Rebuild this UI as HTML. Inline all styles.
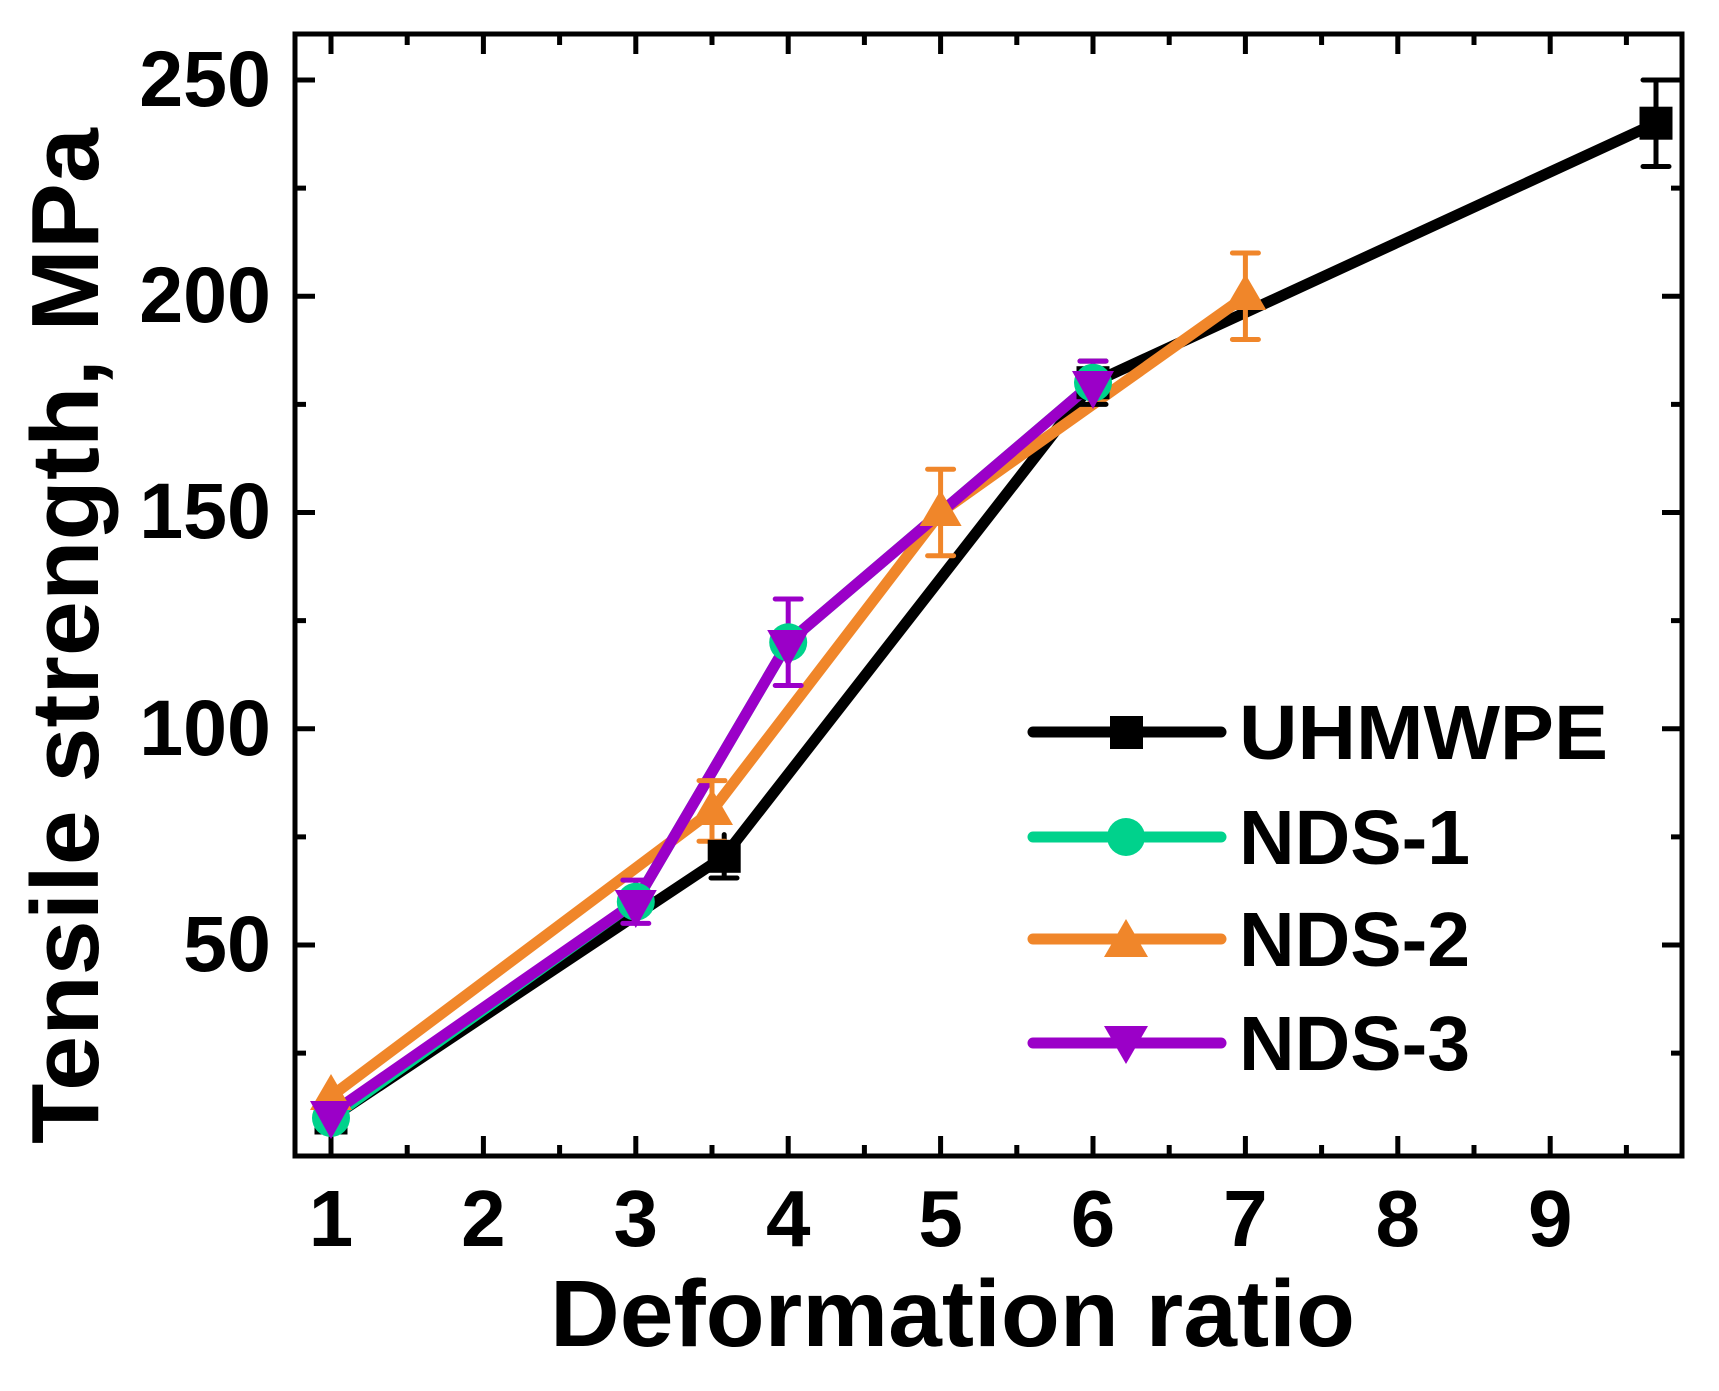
<!DOCTYPE html>
<html><head><meta charset="utf-8"><style>
html,body{margin:0;padding:0;background:#fff;}
svg{display:block;}
text{font-family:"Liberation Sans",Arial,sans-serif;font-weight:bold;fill:#000;}
</style></head><body>
<svg width="1719" height="1391" viewBox="0 0 1719 1391" xmlns="http://www.w3.org/2000/svg">
<g stroke="#000" stroke-width="5">
<path d="M331 1156v-20M483.4 1156v-20M635.8 1156v-20M788.2 1156v-20M940.6 1156v-20M1093 1156v-20M1245.4 1156v-20M1397.8 1156v-20M1550.2 1156v-20
M407.2 1156v-11M559.6 1156v-11M712 1156v-11M864.4 1156v-11M1016.8 1156v-11M1169.2 1156v-11M1321.6 1156v-11M1474 1156v-11M1626.4 1156v-11
M331 34v20M483.4 34v20M635.8 34v20M788.2 34v20M940.6 34v20M1093 34v20M1245.4 34v20M1397.8 34v20M1550.2 34v20
M407.2 34v11M559.6 34v11M712 34v11M864.4 34v11M1016.8 34v11M1169.2 34v11M1321.6 34v11M1474 34v11M1626.4 34v11
M295 80h20M295 296.25h20M295 512.5h20M295 728.75h20M295 945h20
M295 188.1h11M295 404.4h11M295 620.6h11M295 836.9h11M295 1053.1h11
M1682 80h-20M1682 296.25h-20M1682 512.5h-20M1682 728.75h-20M1682 945h-20
M1682 188.1h-11M1682 404.4h-11M1682 620.6h-11M1682 836.9h-11M1682 1053.1h-11"/>
<rect x="295" y="34" width="1387" height="1122" fill="none"/>
</g>
<g font-size="79" text-anchor="end">
<text x="271" y="106">250</text>
<text x="271" y="322">200</text>
<text x="271" y="538">150</text>
<text x="271" y="755">100</text>
<text x="271" y="971">50</text>
</g>
<g font-size="80" text-anchor="middle">
<text x="331" y="1246">1</text><text x="483.4" y="1246">2</text><text x="635.8" y="1246">3</text>
<text x="788.2" y="1246">4</text><text x="940.6" y="1246">5</text><text x="1093" y="1246">6</text>
<text x="1245.4" y="1246">7</text><text x="1397.8" y="1246">8</text><text x="1550.2" y="1246">9</text>
</g>
<text x="550" y="1346" font-size="95" textLength="805" lengthAdjust="spacingAndGlyphs">Deformation ratio</text>
<text transform="translate(98,1144) rotate(-90)" font-size="96" textLength="1016" lengthAdjust="spacingAndGlyphs">Tensile strength, MPa</text>

<g fill="none" stroke-width="11" stroke-linecap="round" stroke-linejoin="round">
<polyline stroke="#000" points="331,1118 724.2,856.3 1093,382.75 1656,123.25"/>
<polyline stroke="#00D28C" points="331,1118 635.8,901.75 788.2,642.3 1093,382.75"/>
<polyline stroke="#F0862A" points="331,1096.4 712,810.9 940.6,512.5 1093,404.4 1245.4,296.25"/>
<polyline stroke="#9B00C8" points="331,1113.7 635.8,901.75 788.2,642.3 1093,382.75"/>
</g>
<g stroke-width="5" fill="none" stroke-linecap="round">
<path stroke="#000" d="M724.2 834.6v43.4M711 878h26M1093 361.1v43.3M1080 361.1h26M1080 404.4h26M1656 80v86.5M1643 80h26M1643 166.5h26"/>
<path stroke="#F0862A" d="M712 780.6v60.6M699 780.6h26M699 841.2h26M940.6 469.25v86.5M927.6 469.25h26M927.6 555.75h26M1245.4 253v86.5M1232.4 253h26M1232.4 339.5h26"/>
<path stroke="#9B00C8" d="M635.8 880.1v43.3M622.8 880.1h26M622.8 923.4h26M788.2 599v86.5M775.2 599h26M775.2 685.5h26M1093 361.1v43M1080 361.1h26"/>
</g>
<g fill="#000">
<rect x="314.5" y="1101.5" width="33" height="33"/>
<rect x="707.7" y="839.8" width="33" height="33"/>
<rect x="1076.5" y="366.2" width="33" height="33"/>
<rect x="1639.5" y="106.7" width="33" height="33"/>
</g>
<g fill="#00D28C">
<circle cx="331" cy="1118" r="19"/><circle cx="635.8" cy="901.75" r="19"/><circle cx="788.2" cy="642.3" r="19"/><circle cx="1093" cy="382.75" r="19"/>
</g>
<g fill="#F0862A">
<path d="M331 1074l21 36h-42z"/><path d="M712 789l21 36h-42z"/><path d="M940.6 490l21 36h-42z"/><path d="M1245.4 274l21 36h-42z"/>
</g>
<g fill="#9B00C8">
<path d="M310 1101h42l-21 38z"/><path d="M614.8 890h42l-21 38z"/><path d="M767.2 630h42l-21 38z"/><path d="M1072 371h42l-21 38z"/>
</g>
<g stroke-width="11" stroke-linecap="round">
<path stroke="#000" d="M1033 732H1221"/>
<path stroke="#00D28C" d="M1033 837H1221"/>
<path stroke="#F0862A" d="M1033 939H1221"/>
<path stroke="#9B00C8" d="M1033 1043H1221"/>
</g>
<rect x="1110" y="716" width="33" height="33" fill="#000"/>
<circle cx="1126" cy="837" r="19" fill="#00D28C"/>
<path d="M1126 919l22 38h-44z" fill="#F0862A"/>
<path d="M1104 1026h44l-22 38z" fill="#9B00C8"/>
<g font-size="77">
<text x="1239" y="759" textLength="369" lengthAdjust="spacingAndGlyphs">UHMWPE</text>
<text x="1239" y="864">NDS-1</text>
<text x="1239" y="966">NDS-2</text>
<text x="1239" y="1070">NDS-3</text>
</g>
</svg>
</body></html>
